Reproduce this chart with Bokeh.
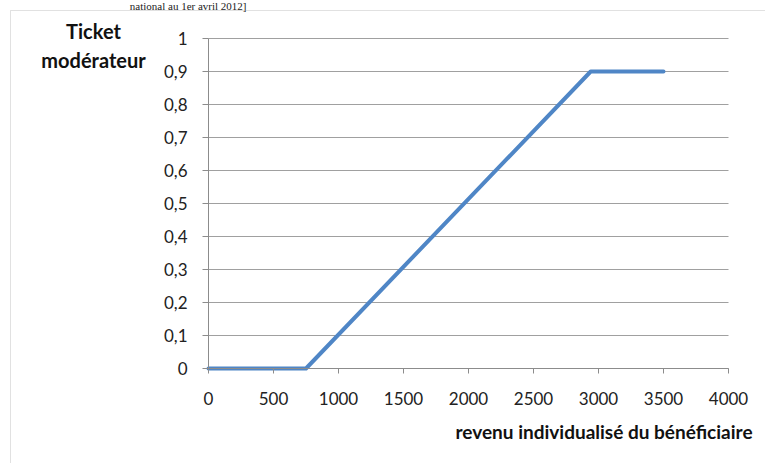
from bokeh.plotting import figure
from bokeh.models import Range1d, FixedTicker, Label, BoxAnnotation, CustomJSTickFormatter
from bokeh.embed import file_html
from bokeh.resources import INLINE

# ---- data ----
revenu = [0, 750, 2940, 3500]
ticket = [0, 0, 0.9, 0.9]
x_ticks = [0, 500, 1000, 1500, 2000, 2500, 3000, 3500, 4000]
y_ticks = [0, 0.1, 0.2, 0.3, 0.4, 0.5, 0.6, 0.7, 0.8, 0.9, 1.0]
y_title = "Ticket\nmodérateur"
x_title = "revenu individualisé du bénéficiaire"
caption = "national au 1er avril 2012]"

FONT = "Lato"
GRID = "#a0a0a0"
AXIS = "#8c8c8c"
BLUE = "#4F86C6"

W, H = 765, 463
# pixel geometry of the plot area inside the canvas
X0_PX, X1_PX = 208, 728      # x = 0 and x = 4000
Y1_PX, Y0_PX = 38, 368       # y = 1 and y = 0
xs = (X1_PX - X0_PX) / (x_ticks[-1] - x_ticks[0])
ys = (Y0_PX - Y1_PX) / (y_ticks[-1] - y_ticks[0])
x_range = Range1d(x_ticks[0] - X0_PX / xs, x_ticks[0] + (W - X0_PX) / xs)
y_range = Range1d(y_ticks[0] - (H - Y0_PX) / ys, y_ticks[0] + Y0_PX / ys)

p = figure(width=W, height=H, output_backend="svg", toolbar_location=None,
           x_range=x_range, y_range=y_range,
           min_border_left=0, min_border_right=0, min_border_top=0, min_border_bottom=0)
p.outline_line_color = None
p.background_fill_color = "white"
p.border_fill_color = "white"

# horizontal gridlines limited to the axis extent
p.segment(x0=x_ticks[0], x1=x_ticks[-1], y0=y_ticks, y1=y_ticks,
          line_color=GRID, line_width=1)
p.xgrid.visible = False
p.ygrid.visible = False

p.line(revenu, ticket, line_color=BLUE, line_width=4, line_cap="round", line_join="round")

# axes
p.xaxis.fixed_location = 0
p.yaxis.fixed_location = 0
p.xaxis.bounds = (x_ticks[0], x_ticks[-1])
p.yaxis.bounds = (y_ticks[0], y_ticks[-1])
p.xaxis.ticker = FixedTicker(ticks=x_ticks)
p.yaxis.ticker = FixedTicker(ticks=y_ticks)
p.yaxis.formatter = CustomJSTickFormatter(
    code="return (Math.round(tick*10)/10).toString().replace('.', ',');")
p.xaxis.formatter = CustomJSTickFormatter(code="return Math.round(tick).toString();")
for ax in (p.xaxis, p.yaxis):
    ax.axis_line_color = AXIS
    ax.major_tick_line_color = AXIS
    ax.minor_tick_line_color = None
    ax.major_tick_in = 0
    ax.major_label_text_font = FONT
    ax.major_label_text_font_size = "17px"
    ax.major_label_text_color = "#222222"
p.xaxis.major_tick_out = 5
p.yaxis.major_tick_out = 6
p.xaxis.major_label_standoff = 18
p.yaxis.major_label_standoff = 15

# titles (canvas pixel units, y from top)
p.add_layout(Label(x=455, y=431, x_units="canvas", y_units="canvas", text=x_title,
                   text_font=FONT, text_font_style="bold", text_font_size="19px",
                   text_align="left", text_baseline="middle", text_color="#111111"))
p.add_layout(Label(x=93, y=45, x_units="canvas", y_units="canvas", text=y_title,
                   text_font=FONT, text_font_style="bold", text_font_size="20px",
                   text_align="center", text_baseline="middle", text_line_height=1.2,
                   text_color="#111111"))
p.add_layout(Label(x=246, y=5, x_units="canvas", y_units="canvas", text=caption,
                   text_font="Liberation Serif", text_font_size="11px",
                   text_align="right", text_baseline="middle", text_color="#222222"))

# outer frame of the chart box
p.add_layout(BoxAnnotation(left=10, top=10, right=3000, bottom=3000,
                           left_units="canvas", right_units="canvas",
                           top_units="canvas", bottom_units="canvas",
                           fill_alpha=0, line_color="#9a9a9a", line_width=1))

open("out.html", "w").write(file_html(p, INLINE))
